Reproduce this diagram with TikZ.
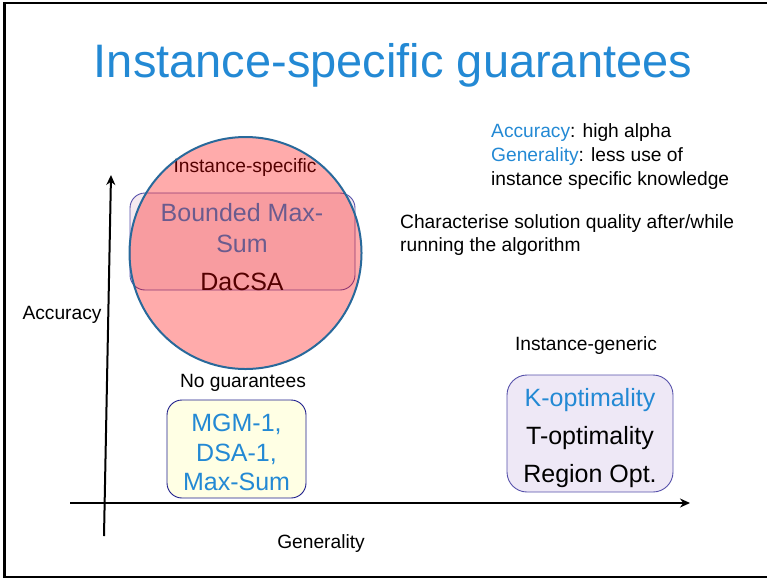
\documentclass[tikz,border=0pt]{standalone}
\usepackage{fontspec}
\setmainfont{Liberation Sans}
\usetikzlibrary{arrows.meta}

\definecolor{ttlblue}{RGB}{35,137,212}
\definecolor{ringblue}{RGB}{40,105,155}
\definecolor{boxnavy}{RGB}{30,30,140}
\definecolor{boxpurple}{RGB}{85,80,170}
\definecolor{creamfill}{RGB}{255,255,228}
\definecolor{lavfill}{RGB}{238,232,246}
\definecolor{innerfill}{RGB}{246,234,240}

\begin{document}
\begin{tikzpicture}[x=1pt,y=-1pt,
  lbl/.style={font=\fontsize{19.2}{23}\selectfont, inner sep=0pt, anchor=base},
  big/.style={font=\fontsize{25}{30}\selectfont, inner sep=0pt, anchor=base},
  axis/.style={line width=2pt, -{Stealth[length=10pt,width=9pt]}},
  rbox/.style={draw, line width=0.9pt, rounded corners=15pt, inner sep=0pt}]
\useasboundingbox (0,0) rectangle (767,579);

% slide frame (open on the right)
\draw[line width=2.6pt] (767,3) -- (4.5,3) -- (4.5,577) -- (767,577);

% title
\node[anchor=base, font=\fontsize{47}{56}\selectfont, text=ttlblue, inner sep=0pt]
  (title) at (393,77) {Instance-specific guarantees};

% notes on the right
\node[lbl, anchor=base west] (n1) at (491,137) {\textcolor{ttlblue}{Accuracy}: high alpha};
\node[lbl, anchor=base west] (n2) at (491,161) {\textcolor{ttlblue}{Generality}: less use of};
\node[lbl, anchor=base west] (n3) at (491,185) {instance specific knowledge};
\node[lbl, anchor=base west] (n4) at (400,228) {Characterise solution quality after/while};
\node[lbl, anchor=base west] (n5) at (400,251) {running the algorithm};

% axes
\coordinate (xs) at (70,503);
\coordinate (xe) at (690,503);
\coordinate (ys) at (104,536);
\coordinate (ye) at (111,175);
\draw[axis] (xs) -- (xe);
\draw[axis] (ys) -- (ye);
\node[lbl] (acc) at (62,319) {Accuracy};
\node[lbl] (gen) at (321,548) {Generality};

% instance-specific region
\node[rbox, draw=boxpurple, fill=innerfill, minimum width=225pt, minimum height=97pt]
  (bms) at (242.5,241.5) {};
\node[lbl] (spec) at (245,172) {Instance-specific};
\node[big, text=ttlblue] (b1) at (242,221.5) {Bounded Max-};
\node[big, text=ttlblue] (b2) at (242,252.5) {Sum};
\node[big] (dacsa) at (242,290) {DaCSA};
\node[circle, draw=ringblue, line width=2pt, fill=red, fill opacity=0.33,
      minimum size=232pt, inner sep=0pt] (circ) at (245.5,253) {};

% no guarantees
\node[lbl] (nog) at (243,387) {No guarantees};
\node[rbox, draw=boxnavy, fill=creamfill, minimum width=139pt, minimum height=98pt]
  (mgm) at (236.5,449) {};
\node[big, text=ttlblue] (m1) at (236.5,431) {MGM-1,};
\node[big, text=ttlblue] (m2) at (236.5,461) {DSA-1,};
\node[big, text=ttlblue] (m3) at (236.5,490) {Max-Sum};

% instance-generic
\node[lbl] (igen) at (586,350) {Instance-generic};
\node[rbox, draw=boxpurple, fill=lavfill, rounded corners=20pt,
      minimum width=166pt, minimum height=117pt] (kopt) at (590,433.5) {};
\node[big, text=ttlblue] (k1) at (590,406) {K-optimality};
\node[big] (k2) at (590,444) {T-optimality};
\node[big] (k3) at (590,482) {Region Opt.};
\end{tikzpicture}
\end{document}
